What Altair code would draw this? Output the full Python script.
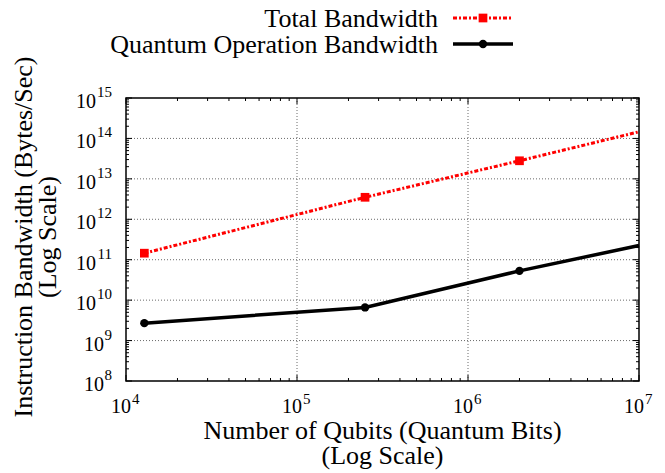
import altair as alt
import pandas as pd

# ---- data ----
qubits = [12800, 250000, 2000000, 10000000]
total_bw = [1.45e11, 3.5e12, 2.8e13, 1.46e14]
quantum_bw = [2.7e9, 6.6e9, 5.3e10, 2.24e11]
series_names = ["Total Bandwidth", "Quantum Operation Bandwidth"]

x_major = [1e4, 1e5, 1e6, 1e7]
x_exp = ["4", "5", "6", "7"]
y_major = [1e8, 1e9, 1e10, 1e11, 1e12, 1e13, 1e14, 1e15]
y_exp = ["8", "9", "10", "11", "12", "13", "14", "15"]
x_minor = [m * 10 ** e for e in range(4, 7) for m in range(2, 10)]
y_minor = [m * 10 ** e for e in range(8, 15) for m in range(2, 10)]

x_title = ["Number of Qubits (Quantum Bits)", "(Log Scale)"]
y_title = ["Instruction Bandwidth (Bytes/Sec)", "(Log Scale)"]

W, H = 513, 283
FONT = "'Liberation Serif', 'Times New Roman', Times, serif"
RED = "#ff0000"
DASH = [4, 2, 2, 2]

xs = alt.Scale(type="log", domain=[1e4, 1e7], nice=False)
ys = alt.Scale(type="log", domain=[1e8, 1e15], nice=False)

df_total = pd.DataFrame({"qubits": qubits, "bw": total_bw})
df_quant = pd.DataFrame({"qubits": qubits, "bw": quantum_bw})

X = alt.X("qubits:Q", scale=xs, axis=None)
Y = alt.Y("bw:Q", scale=ys, axis=None)

# grid
xgrid = alt.Chart(pd.DataFrame({"v": x_major})).transform_filter(
    "datum.v > 1e4 && datum.v < 1e7").mark_rule(
    color="#444444", strokeWidth=0.8, strokeDash=[1, 2]).encode(
    x=alt.X("v:Q", scale=xs, axis=None))
ygrid = alt.Chart(pd.DataFrame({"v": y_major})).transform_filter(
    "datum.v > 1e8 && datum.v < 1e15").mark_rule(
    color="#444444", strokeWidth=0.8, strokeDash=[1, 2]).encode(
    y=alt.Y("v:Q", scale=ys, axis=None))

def xticks(vals, ln):
    d = pd.DataFrame({"v": vals})
    b = alt.Chart(d).mark_rule(color="black", strokeWidth=1).encode(
        x=alt.X("v:Q", scale=xs, axis=None), y=alt.value(H), y2=alt.value(H - ln))
    t = alt.Chart(d).mark_rule(color="black", strokeWidth=1).encode(
        x=alt.X("v:Q", scale=xs, axis=None), y=alt.value(0), y2=alt.value(ln))
    return [b, t]

def yticks(vals, ln):
    d = pd.DataFrame({"v": vals})
    l = alt.Chart(d).mark_rule(color="black", strokeWidth=1).encode(
        y=alt.Y("v:Q", scale=ys, axis=None), x=alt.value(0), x2=alt.value(ln))
    r = alt.Chart(d).mark_rule(color="black", strokeWidth=1).encode(
        y=alt.Y("v:Q", scale=ys, axis=None), x=alt.value(W), x2=alt.value(W - ln))
    return [l, r]

ticks = xticks(x_minor, 3) + xticks(x_major, 6) + yticks(y_minor, 3) + yticks(y_major, 6)

# series
total_line = alt.Chart(df_total).mark_line(
    color=RED, strokeWidth=3, strokeDash=DASH).encode(x=X, y=Y)
total_pts = alt.Chart(df_total).transform_filter("datum.qubits < 1e7").mark_point(
    shape="square", filled=True, size=76, color=RED, opacity=1).encode(x=X, y=Y)
quant_line = alt.Chart(df_quant).mark_line(
    color="black", strokeWidth=3.5).encode(x=X, y=Y)
quant_pts = alt.Chart(df_quant).transform_filter("datum.qubits < 1e7").mark_point(
    shape="circle", filled=True, size=70, color="black", opacity=1).encode(x=X, y=Y)

# tick labels
dfx = pd.DataFrame({"v": x_major, "e": x_exp})
xl_base = alt.Chart(dfx).mark_text(
    text="10", font=FONT, fontSize=20, align="right", baseline="alphabetic", dx=5,
    color="black").encode(x=alt.X("v:Q", scale=xs, axis=None), y=alt.value(H + 32))
xl_exp = alt.Chart(dfx).mark_text(
    font=FONT, fontSize=15, align="left", baseline="alphabetic", dx=6,
    color="black").encode(x=alt.X("v:Q", scale=xs, axis=None), y=alt.value(H + 23),
                          text="e:N")

dfy = pd.DataFrame({"v": y_major, "e": y_exp})
yl_exp = alt.Chart(dfy).mark_text(
    font=FONT, fontSize=15, align="right", baseline="alphabetic", dx=-14, dy=-1,
    color="black").encode(y=alt.Y("v:Q", scale=ys, axis=None), x=alt.value(0),
                          text="e:N")
yl_base2 = alt.Chart(dfy).transform_filter("length(datum.e) == 2").mark_text(
    text="10", font=FONT, fontSize=20, align="right", baseline="alphabetic",
    dx=-30, dy=10, color="black").encode(
    y=alt.Y("v:Q", scale=ys, axis=None), x=alt.value(0))
yl_base1 = alt.Chart(dfy).transform_filter("length(datum.e) == 1").mark_text(
    text="10", font=FONT, fontSize=20, align="right", baseline="alphabetic",
    dx=-22, dy=10, color="black").encode(
    y=alt.Y("v:Q", scale=ys, axis=None), x=alt.value(0))

# axis titles
TS = 26
dxt = pd.DataFrame({"t": x_title, "i": [0, 1]})
xt1 = alt.Chart(dxt).transform_filter("datum.i == 0").mark_text(
    font=FONT, fontSize=TS, align="center", baseline="alphabetic", color="black"
).encode(x=alt.value(W / 2), y=alt.value(H + 58), text="t:N")
xt2 = alt.Chart(dxt).transform_filter("datum.i == 1").mark_text(
    font=FONT, fontSize=TS, align="center", baseline="alphabetic", color="black"
).encode(x=alt.value(W / 2), y=alt.value(H + 83), text="t:N")

dyt = pd.DataFrame({"t": y_title, "i": [0, 1]})
yt1 = alt.Chart(dyt).transform_filter("datum.i == 0").mark_text(
    font=FONT, fontSize=TS, align="center", baseline="alphabetic", angle=270,
    color="black").encode(x=alt.value(-94), y=alt.value(139), text="t:N")
yt2 = alt.Chart(dyt).transform_filter("datum.i == 1").mark_text(
    font=FONT, fontSize=TS, align="center", baseline="alphabetic", angle=270,
    color="black").encode(x=alt.value(-70), y=alt.value(139), text="t:N")

# legend
dleg = pd.DataFrame({"name": series_names, "i": [0, 1]})
ROW = [-80, -54]
leg_t1 = alt.Chart(dleg).transform_filter("datum.i == 0").mark_text(
    font=FONT, fontSize=TS, align="right", baseline="alphabetic", color="black"
).encode(x=alt.value(312), y=alt.value(ROW[0] + 9), text="name:N")
leg_t2 = alt.Chart(dleg).transform_filter("datum.i == 1").mark_text(
    font=FONT, fontSize=TS, align="right", baseline="alphabetic", color="black"
).encode(x=alt.value(312), y=alt.value(ROW[1] + 9), text="name:N")
leg_l1 = alt.Chart(dleg).transform_filter("datum.i == 0").mark_rule(
    color=RED, strokeWidth=3, strokeDash=DASH).encode(
    x=alt.value(327), x2=alt.value(387), y=alt.value(ROW[0]))
leg_l2 = alt.Chart(dleg).transform_filter("datum.i == 1").mark_rule(
    color="black", strokeWidth=3.5).encode(
    x=alt.value(327), x2=alt.value(387), y=alt.value(ROW[1]))
leg_p1 = alt.Chart(dleg).transform_filter("datum.i == 0").mark_point(
    shape="square", filled=True, size=76, color=RED, opacity=1).encode(
    x=alt.value(357), y=alt.value(ROW[0]))
leg_p2 = alt.Chart(dleg).transform_filter("datum.i == 1").mark_point(
    shape="circle", filled=True, size=70, color="black", opacity=1).encode(
    x=alt.value(357), y=alt.value(ROW[1]))

chart = alt.layer(
    xgrid, ygrid, *ticks,
    total_line, total_pts, quant_line, quant_pts,
    xl_base, xl_exp, yl_exp, yl_base2, yl_base1,
    xt1, xt2, yt1, yt2,
    leg_t1, leg_t2, leg_l1, leg_l2, leg_p1, leg_p2,
).properties(
    width=W, height=H, autosize=alt.AutoSizeParams(type="none"),
    padding={"left": 118, "top": 90, "right": 18, "bottom": 92},
).configure_view(stroke="black", strokeWidth=1.5)

chart.save("out.html", embed_options={"renderer": "svg", "actions": False})
